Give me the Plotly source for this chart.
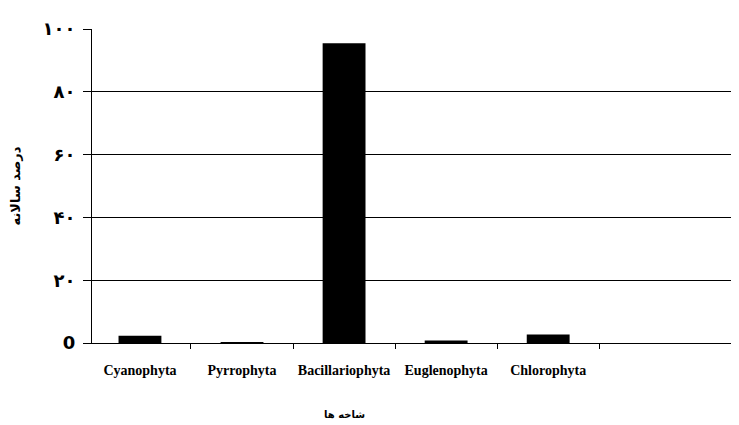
import plotly.graph_objects as go

categories = ["Cyanophyta", "Pyrrophyta", "Bacillariophyta", "Euglenophyta", "Chlorophyta"]
values = [2.3, 0.2, 95.5, 0.8, 2.7]
y_tick_vals = [0, 20, 40, 60, 80, 100]
y_tick_text = ["0", "۲۰", "۴۰", "۶۰", "۸۰", "۱۰۰"]
y_title = "درصد سالانه"
x_title = "شاخه ها"

fig = go.Figure()
fig.add_trace(go.Bar(
    x=categories, y=values,
    marker=dict(color="black", line=dict(color="black", width=0)),
    width=0.42,
))

fig.update_layout(
    width=739, height=425,
    margin=dict(l=84, r=9, t=21, b=90, autoexpand=False),
    paper_bgcolor="white", plot_bgcolor="white",
    showlegend=False,
    font=dict(family="DejaVu Sans", color="black"),
    xaxis=dict(
        type="category",
        automargin=False,
        range=[-0.47, 5.86],
        showgrid=False,
        showline=True, linecolor="black", linewidth=1,
        ticks="outside", tickson="boundaries", ticklen=5, tickcolor="black",
        tickfont=dict(family="Liberation Serif", size=14, color="black", weight="bold"),
        ticklabelstandoff=14,
    ),
    yaxis=dict(
        automargin=False,
        range=[0, 100],
        tickvals=y_tick_vals, ticktext=y_tick_text,
        showgrid=True, gridcolor="black", gridwidth=1,
        showline=True, linecolor="black", linewidth=1,
        zeroline=True, zerolinecolor="black", zerolinewidth=1,
        ticks="outside", ticklen=8, tickcolor="black",
        tickfont=dict(family="DejaVu Sans", size=18, color="black", weight="bold"),
        ticklabelstandoff=4,
        title=dict(text=y_title, font=dict(family="DejaVu Sans", size=13, color="black", weight="bold"), standoff=26),
    ),
    annotations=[dict(
        x=2, y=-0.25, xref="x", yref="paper",
        text=x_title, showarrow=False,
        font=dict(family="DejaVu Sans", size=10, color="black", weight="bold"),
    )],
)

fig.write_html("out.html")
